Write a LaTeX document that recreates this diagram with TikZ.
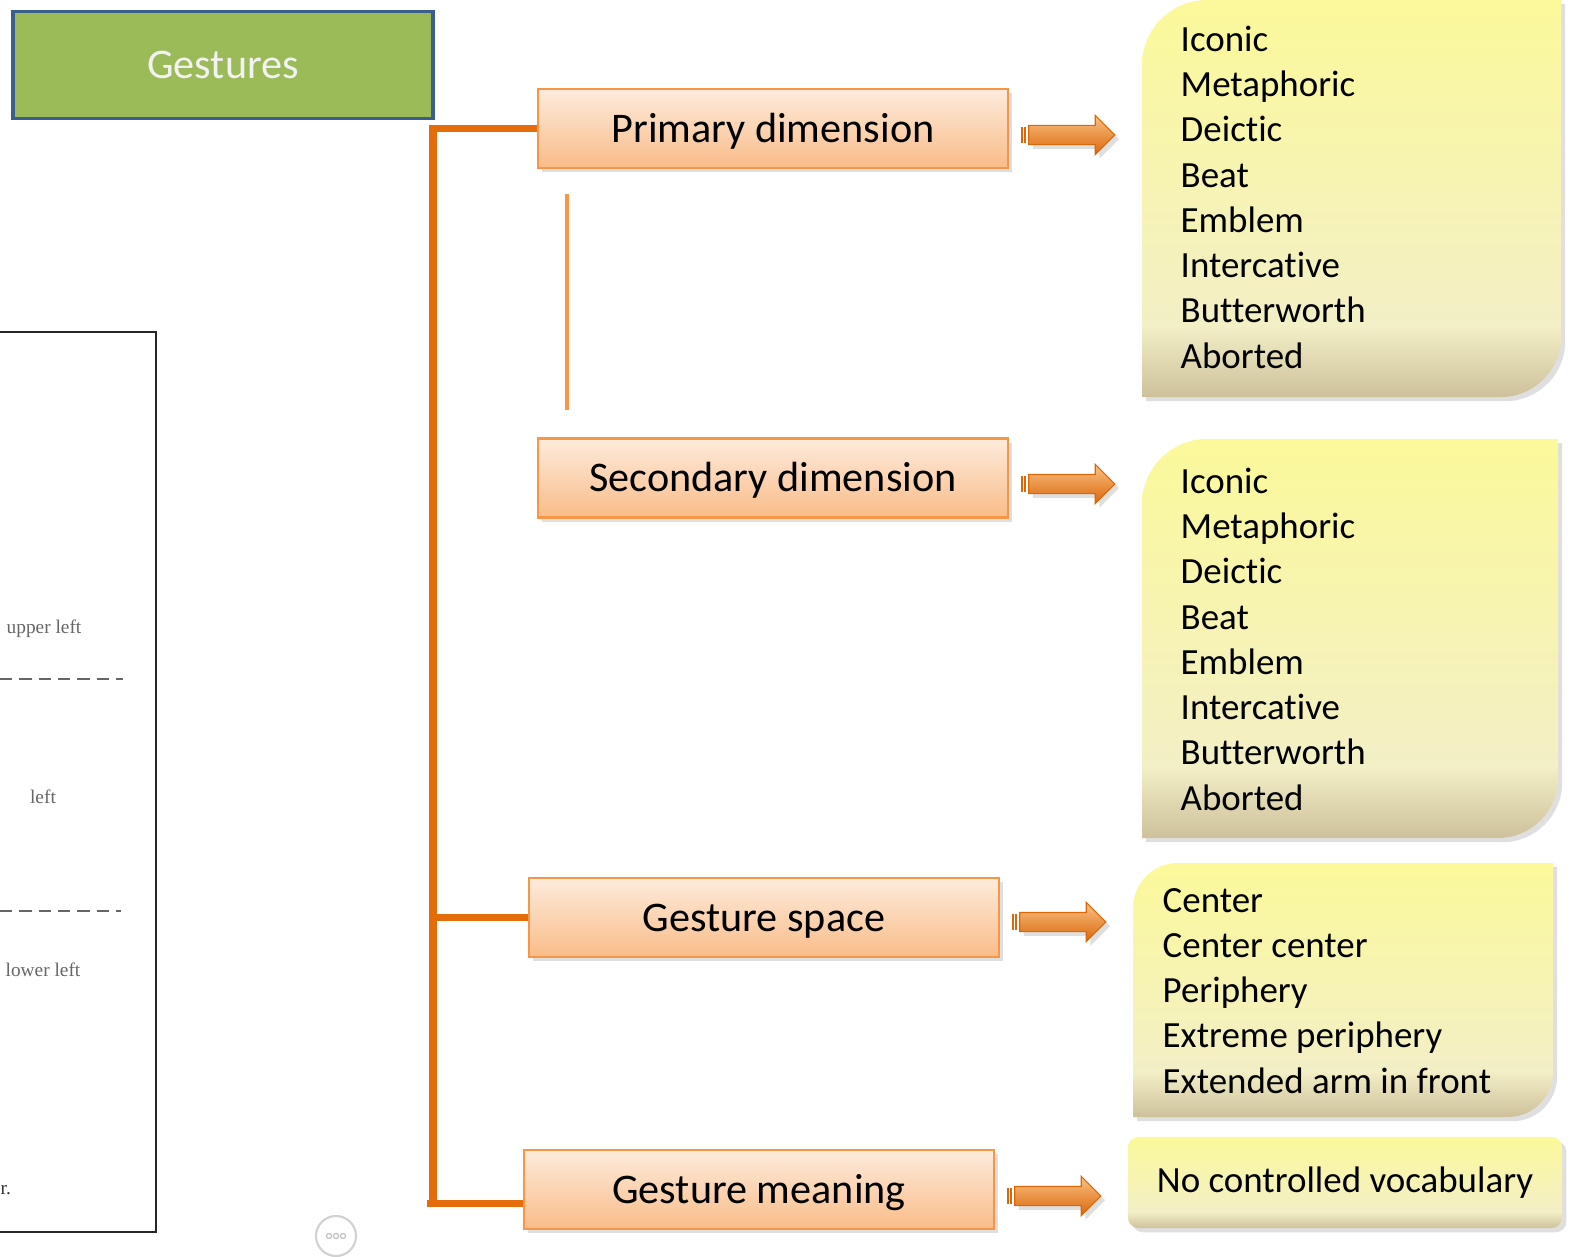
\documentclass[tikz,border=0pt]{standalone}
\usepackage{fontspec}
\setmainfont[Ligatures=NoCommon]{Carlito}
\newfontfamily\scanfont{Liberation Serif}
\usetikzlibrary{calc,shadows,shapes.arrows}

\definecolor{gestgreen}{HTML}{9BBB59}
\definecolor{gestblue}{HTML}{3B5E8C}
\definecolor{trunkorange}{HTML}{E46C0A}
\definecolor{lineorange}{HTML}{F79646}
\definecolor{peachtop}{HTML}{FDEBDC}
\definecolor{peachbot}{HTML}{F9BC88}
\definecolor{arrowtop}{HTML}{FBC184}
\definecolor{arrowmid}{HTML}{F59A3E}
\definecolor{arrowbot}{HTML}{D9680B}
\definecolor{notetop}{HTML}{FBF99A}
\definecolor{notemid}{HTML}{F3EFC6}
\definecolor{notebot}{HTML}{CDC19B}

\pgfdeclareverticalshading{notepad}{100bp}{color(0bp)=(notebot); color(25bp)=(notebot); color(34bp)=(notemid); color(75bp)=(notetop); color(100bp)=(notetop)}

\tikzset{
  softshadow/.style={drop shadow={shadow xshift=1.2pt, shadow yshift=-1.2pt, opacity=0.25}},
  dimbox/.style={draw=lineorange, line width=0.6pt, top color=peachtop, bottom color=peachbot,
    minimum width=4.7cm, minimum height=0.79cm, inner sep=0pt, text height=0.78em, text depth=0pt,
    font=\fontsize{12}{14}\selectfont, softshadow},
  notebox/.style={shading=notepad, softshadow},
  notetext/.style={align=left, inner sep=0pt, font=\fontsize{10.5}{12.86}\selectfont},
  blockarrow/.style={single arrow, minimum height=0.86cm, minimum width=0.38cm, inner sep=0.09cm,
    single arrow head extend=0.1cm, top color=arrowtop, middle color=arrowmid, bottom color=arrowbot,
    draw=arrowbot, line width=0.3pt, softshadow},
  branch/.style={draw=trunkorange, line width=2pt},
  panelline/.style={draw=black!85, line width=0.7pt},
  paneldash/.style={draw=black!60, line width=0.5pt, dash pattern=on 3.5pt off 2pt},
  scanlabel/.style={inner sep=0pt, text=black!60, font=\scanfont\fontsize{5.5}{6}\selectfont}
}

\begin{document}
\begin{tikzpicture}[x=0.01cm, y=-0.01cm]
  %%%%% START %%%%%
  \useasboundingbox (0,0) rectangle (1578,1257);

  % cut-off panel on the left
  \draw[panelline] (0,332) -- (156,332) -- (156,1232) -- (0,1232);
  \draw[paneldash] (0,679) -- (123,679);
  \draw[paneldash] (0,911) -- (121,911);
  \node[scanlabel] (ul) at (44,629) {upper left};
  \node[scanlabel] (ml) at (43,797) {left};
  \node[scanlabel] (ll) at (43,970) {lower left};
  \node[scanlabel, text=black!80, anchor=west] (cut) at (0,1190) {r.};

  % root
  \node[draw=gestblue, line width=1.1pt, fill=gestgreen, minimum width=4.2cm, minimum height=1.07cm,
    text height=0.78em, text depth=0pt, text=white!95!black, font=\fontsize{12}{14}\selectfont] (gest) at (223,65) {Gestures};

  % dimensions
  \node[dimbox] (prim) at (773,128.5) {Primary dimension};
  \node[dimbox] (sec) at (773,478) {Secondary dimension};
  \node[dimbox] (space) at (764,917.5) {Gesture space};
  \node[dimbox] (mean) at (759,1189.5) {Gesture meaning};

  \coordinate (trunk) at (433,0);
  \draw[branch] (prim.west) -- (prim.west -| trunk) -- ($(mean.west -| trunk)+(0,14)$);
  \draw[branch] (space.west) -- (space.west -| trunk);
  \draw[branch] ($(mean.west)+(0,14)$) -- ($(mean.west -| trunk)+(-6,14)$);

  \coordinate (stub1) at (567,194);
  \coordinate (stub2) at (567,410);
  \draw[draw=lineorange, line width=1.4pt] (stub1) -- (stub2);

  % arrows
  \node[blockarrow] (arr1) at (1067,135) {};
  \node[blockarrow] (arr2) at (1067,484) {};
  \node[blockarrow] (arr3) at (1058,922) {};
  \node[blockarrow] (arr4) at (1053,1196) {};
  \foreach \a in {arr1,arr2,arr3,arr4}{
    \fill[arrowbot] ($(\a.west)+(-7,-8)$) rectangle ++(2,16);
    \fill[arrowbot] ($(\a.west)+(-4,-8)$) rectangle ++(2,16);
  }

  % value lists (base anchor = last line)
  \shade[notebox] (1142,397) -- (1142,65) arc[start angle=180, end angle=270, radius=65]
    -- (1561,0) -- (1561,337) arc[start angle=0, end angle=90, radius=60] -- cycle;
  \node[notetext, anchor=base west] (list1) at (1180,368)
    {Iconic\\Metaphoric\\Deictic\\Beat\\Emblem\\Intercative\\Butterworth\\Aborted};

  \shade[notebox] (1142,838) -- (1142,504) arc[start angle=180, end angle=270, radius=65]
    -- (1558,439) -- (1558,778) arc[start angle=0, end angle=90, radius=60] -- cycle;
  \node[notetext, anchor=base west] (list2) at (1180,810)
    {Iconic\\Metaphoric\\Deictic\\Beat\\Emblem\\Intercative\\Butterworth\\Aborted};

  \shade[notebox] (1133,1117) -- (1133,908) arc[start angle=180, end angle=270, radius=45]
    -- (1553,863) -- (1553,1072) arc[start angle=0, end angle=90, radius=45] -- cycle;
  \node[notetext, anchor=base west] (list3) at (1162,1093)
    {Center\\Center center\\Periphery\\Extreme periphery\\Extended arm in front};

  \node[notebox, rounded corners=3pt, minimum width=4.34cm, minimum height=0.91cm, inner sep=0pt,
    font=\fontsize{10.5}{12.86}\selectfont] (list4) at (1345,1182.5) {No controlled vocabulary};

  % viewer overlay button
  \node[draw=black!18, circle, minimum size=0.4cm, line width=0.6pt, inner sep=0pt] (dots) at (336,1236) {};
  \foreach \dx in {-7,0,7}
    \draw[black!22, line width=0.4pt] ($(dots.center)+(\dx,0)$) circle (2.5);

  %%%%% END %%%%%
\end{tikzpicture}
\end{document}
